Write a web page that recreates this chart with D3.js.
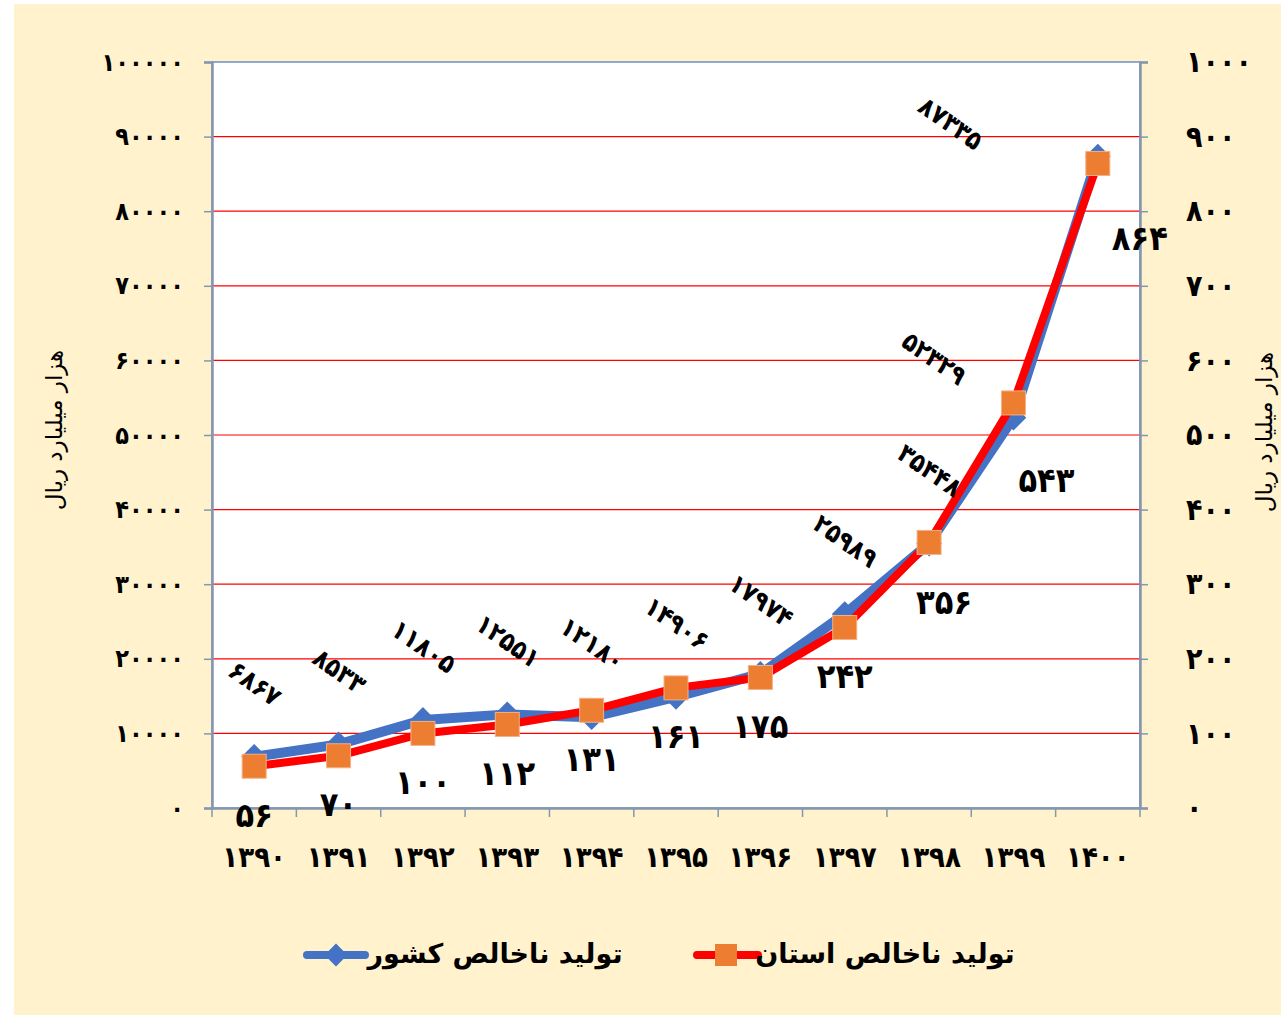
<!DOCTYPE html>
<html>
<head>
<meta charset="utf-8">
<script src="https://cdn.jsdelivr.net/npm/d3@7"></script>
<style>
  body { margin: 0; background: #fff; }
  text { font-family: "DejaVu Sans", sans-serif; }
  .num { font-family: "DejaVu Sans Condensed", "DejaVu Sans", sans-serif; }
</style>
</head>
<body>
<div id="chart"></div>
<script>
// years (x categories)
const years = [1390, 1391, 1392, 1393, 1394, 1395, 1396, 1397, 1398, 1399, 1400];
// country GDP (left axis)
const countryValues = [6867, 8533, 11805, 12551, 12180, 14906, 17974, 25989, 35448, 52329, 87335];
// province GDP (right axis)
const provinceValues = [56, 70, 100, 112, 131, 161, 175, 242, 356, 543, 864];
const leftTicks = [0, 10000, 20000, 30000, 40000, 50000, 60000, 70000, 80000, 90000, 100000];
const rightTicks = [0, 100, 200, 300, 400, 500, 600, 700, 800, 900, 1000];
const seriesNames = ["تولید ناخالص  کشور", "تولید ناخالص استان"];
const axisTitle = "هزار میلیارد ریال";

const fa = (v) => String(v).replace(/\d/g, (d) => "۰۱۲۳۴۵۶۷۸۹"[d]);

function drawChart() {
  const w = 1281;
  const h = 1017;
  const margins = { top: 62, left: 212, bottom: 209, right: 141 };
  const innerWidth = w - margins.left - margins.right;
  const innerHeight = h - margins.top - margins.bottom;

  const svg = d3.select("#chart").append("svg")
    .attr("width", w).attr("height", h);

  // background
  svg.append("rect")
    .attr("x", 14).attr("y", 4).attr("width", w - 14).attr("height", h - 6)
    .attr("fill", "#FFF2CC");

  const g = svg.append("g")
    .attr("transform", `translate(${margins.left}, ${margins.top})`);

  const xScale = d3.scaleBand().domain(years).range([0, innerWidth]);
  const yLeft = d3.scaleLinear().domain([0, 100000]).range([innerHeight, 0]);
  const yRight = d3.scaleLinear().domain([0, 1000]).range([innerHeight, 0]);
  const xc = (d) => xScale(d) + xScale.bandwidth() / 2;

  g.append("rect")
    .attr("width", innerWidth).attr("height", innerHeight)
    .attr("fill", "#fff").attr("stroke", "#6E8FC9").attr("stroke-width", 1.5);

  // gridlines
  g.selectAll(".grid")
    .data(leftTicks.filter((t) => t > 0 && t < 100000))
    .enter().append("line")
    .attr("x1", 0).attr("x2", innerWidth)
    .attr("y1", (d) => yLeft(d)).attr("y2", (d) => yLeft(d))
    .attr("stroke", "#FF0000").attr("stroke-width", 1.2);

  // left axis
  const leftAxis = g.append("g").call(
    d3.axisLeft(yLeft).tickValues(leftTicks).tickSize(8).tickPadding(20).tickFormat(fa)
  );
  leftAxis.select(".domain").attr("stroke", "#8497B0").attr("stroke-width", 2.5);
  leftAxis.selectAll(".tick line").attr("stroke", "#8497B0").attr("stroke-width", 1.5);
  leftAxis.selectAll("text").attr("class", "num")
    .attr("font-size", "25px").attr("font-weight", "bold").attr("fill", "#000");

  // right axis
  const rightAxis = g.append("g")
    .attr("transform", `translate(${innerWidth}, 0)`)
    .call(d3.axisRight(yRight).tickValues(rightTicks).tickSize(8).tickPadding(38).tickFormat(fa));
  rightAxis.select(".domain").attr("stroke", "#8497B0").attr("stroke-width", 2.5);
  rightAxis.selectAll(".tick line").attr("stroke", "#8497B0").attr("stroke-width", 1.5);
  rightAxis.selectAll("text").attr("class", "num")
    .attr("font-size", "30px").attr("font-weight", "bold").attr("fill", "#000");

  // bottom axis
  const xAxis = g.append("g")
    .attr("transform", `translate(0, ${innerHeight})`)
    .call(d3.axisBottom(xScale).tickSize(0).tickPadding(38).tickFormat(fa));
  xAxis.select(".domain").attr("stroke", "#8497B0").attr("stroke-width", 2.5);
  xAxis.selectAll("text").attr("class", "num")
    .attr("font-size", "29px").attr("font-weight", "bold").attr("fill", "#000");
  g.selectAll(".xtick")
    .data(years.concat([null]))
    .enter().append("line")
    .attr("x1", (d, i) => i * xScale.bandwidth()).attr("x2", (d, i) => i * xScale.bandwidth())
    .attr("y1", innerHeight).attr("y2", innerHeight + 9)
    .attr("stroke", "#8497B0").attr("stroke-width", 1.5);

  // axis titles
  svg.append("text")
    .attr("transform", "translate(62, 430) rotate(-90)")
    .attr("text-anchor", "middle")
    .attr("font-size", "23px")
    .text(axisTitle);
  svg.append("text")
    .attr("transform", "translate(1272, 432) rotate(-90)")
    .attr("text-anchor", "middle")
    .attr("font-size", "23px")
    .text(axisTitle);

  // country line
  const countryLine = d3.line()
    .x((d, i) => xc(years[i]))
    .y((d) => yLeft(d));
  g.append("path")
    .datum(countryValues)
    .attr("d", countryLine)
    .attr("fill", "none").attr("stroke", "#4472C4").attr("stroke-width", 10)
    .attr("stroke-linejoin", "round");
  g.selectAll(".diamond")
    .data(countryValues)
    .enter().append("path")
    .attr("d", d3.symbol().type(d3.symbolDiamond2).size(420))
    .attr("transform", (d, i) => `translate(${xc(years[i])}, ${yLeft(d)})`)
    .attr("fill", "#4472C4");

  // province line
  const provinceLine = d3.line()
    .x((d, i) => xc(years[i]))
    .y((d) => yRight(d));
  g.append("path")
    .datum(provinceValues)
    .attr("d", provinceLine)
    .attr("fill", "none").attr("stroke", "#FF0000").attr("stroke-width", 8)
    .attr("stroke-linejoin", "round");
  g.selectAll(".square")
    .data(provinceValues)
    .enter().append("rect")
    .attr("x", (d, i) => xc(years[i]) - 12)
    .attr("y", (d) => yRight(d) - 12)
    .attr("width", 24).attr("height", 24)
    .attr("fill", "#ED7D31").attr("stroke", "#F4B183").attr("stroke-width", 1);

  // label offsets (hand-placed in the original)
  const countryShift = { 1399: [-80, -58], 1400: [-148, -32] };
  const provinceShift = { 1398: [15, 62], 1399: [33, 80], 1400: [42, 77] };

  g.selectAll(".clabel")
    .data(countryValues)
    .enter().append("text")
    .attr("class", "num")
    .attr("transform", (d, i) => {
      const s = countryShift[years[i]] || [0, -72];
      return `translate(${xc(years[i]) + s[0]}, ${yLeft(d) + s[1]}) rotate(35)`;
    })
    .attr("text-anchor", "middle")
    .attr("dominant-baseline", "middle")
    .attr("font-size", "26px").attr("font-weight", "bold")
    .text(fa);

  g.selectAll(".plabel")
    .data(provinceValues)
    .enter().append("text")
    .attr("class", "num")
    .attr("x", (d, i) => xc(years[i]) + (provinceShift[years[i]] || [0, 51])[0])
    .attr("y", (d, i) => yRight(d) + (provinceShift[years[i]] || [0, 51])[1])
    .attr("text-anchor", "middle")
    .attr("dominant-baseline", "middle")
    .attr("font-size", "34px").attr("font-weight", "bold")
    .text(fa);

  // legend
  const legend = svg.append("g").attr("transform", "translate(0, 955)");
  legend.append("line")
    .attr("x1", 307).attr("x2", 365).attr("stroke", "#4472C4")
    .attr("stroke-width", 8).attr("stroke-linecap", "round");
  legend.append("path")
    .attr("d", d3.symbol().type(d3.symbolDiamond2).size(330))
    .attr("transform", "translate(336, 0)").attr("fill", "#4472C4");
  legend.append("text")
    .attr("x", 495).attr("y", 0).attr("text-anchor", "middle")
    .attr("dominant-baseline", "middle")
    .attr("font-size", "27px").attr("font-weight", "bold")
    .text(seriesNames[0]);
  legend.append("line")
    .attr("x1", 697).attr("x2", 758).attr("stroke", "#FF0000")
    .attr("stroke-width", 8).attr("stroke-linecap", "round");
  legend.append("rect")
    .attr("x", 715).attr("y", -11).attr("width", 22).attr("height", 22)
    .attr("fill", "#ED7D31");
  legend.append("text")
    .attr("x", 885).attr("y", 0).attr("text-anchor", "middle")
    .attr("dominant-baseline", "middle")
    .attr("font-size", "27px").attr("font-weight", "bold")
    .text(seriesNames[1]);
}

window.addEventListener("load", drawChart);
</script>
</body>
</html>
